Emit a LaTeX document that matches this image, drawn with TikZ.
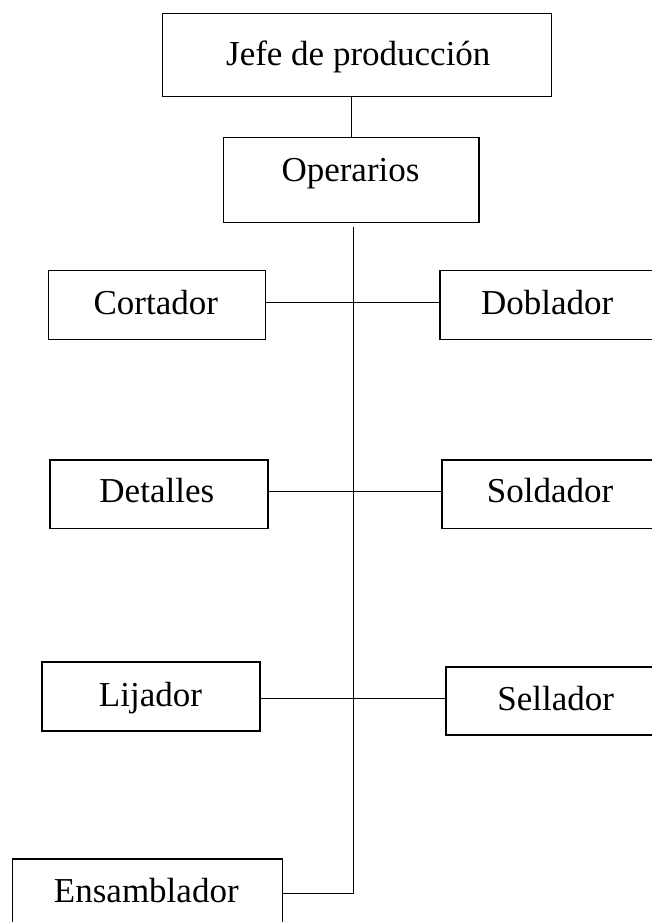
\documentclass[tikz,border=0pt]{standalone}
\usepackage{fontspec}
\setmainfont{Liberation Serif}
\begin{document}
\begin{tikzpicture}[x=1pt,y=-1pt,
  box/.style={draw=black,line width=1.5pt,inner sep=0pt,outer sep=0pt},
  lbl/.style={font=\fontsize{35}{42}\selectfont,inner sep=0pt,anchor=base,text=black},
  conn/.style={draw=black,line width=1.5pt}]
\useasboundingbox (0,0) rectangle (652,922);
\clip (0,0) rectangle (652,922);
% boxes
\node[box,minimum width=388.6pt,minimum height=83.4pt] (jefe) at (357,55) {};
\node[box,minimum width=255.7pt,minimum height=85pt] (oper) at (351.2,180.2) {};
\node[box,minimum width=217.4pt,minimum height=68.6pt] (cort) at (157,305) {};
\node[box,minimum width=214pt,minimum height=68.6pt] (dobl) at (547,305) {};
\node[box,minimum width=217.7pt,minimum height=68.3pt] (deta) at (158.9,494.2) {};
\node[box,minimum width=216pt,minimum height=68.3pt] (sold) at (550,494.2) {};
\node[box,minimum width=218.3pt,minimum height=69pt] (lija) at (150.9,696.5) {};
\node[box,minimum width=219pt,minimum height=68.3pt] (sell) at (555.5,700.9) {};
\node[box,minimum width=270pt,minimum height=69pt] (ensa) at (147.3,893.5) {};
% labels
\node[lbl] (jefeT) at (358.3,65.5) {Jefe de producción};
\node[lbl] (operT) at (350.5,181.7) {Operarios};
\node[lbl] (cortT) at (155.8,314) {Cortador};
\node[lbl] (doblT) at (547.2,314) {Doblador};
\node[lbl] (detaT) at (156.8,502.7) {Detalles};
\node[lbl] (soldT) at (550,502.7) {Soldador};
\node[lbl] (lijaT) at (150.5,706.7) {Lijador};
\node[lbl] (sellT) at (555.8,710) {Sellador};
\node[lbl] (ensaT) at (146.3,902.7) {Ensamblador};
% connectors
\coordinate (tx) at (351.7,0);
\draw[conn] (tx |- jefe.south) -- (tx |- oper.north);
\coordinate (sp) at (353.5,226.5);
\draw[conn] (ensa.east) -| (sp);
\draw[conn] ([yshift=2.3pt]cort.east) -- ([yshift=2.3pt]cort.east -| dobl.west);
\draw[conn] ([yshift=2.5pt]deta.east) -- ([yshift=2.5pt]deta.east -| sold.west);
\draw[conn] ([yshift=-2pt]lija.east) -- ([yshift=-2pt]lija.east -| sell.west);
\end{tikzpicture}
\end{document}
